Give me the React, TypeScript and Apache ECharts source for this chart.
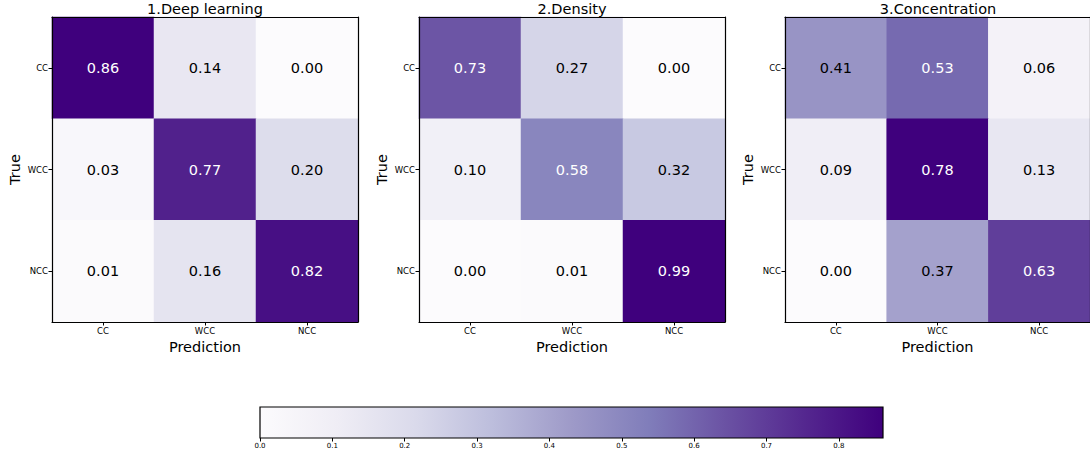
import React, { useEffect, useRef } from "react";
import * as echarts from "echarts";

const categories = ["CC", "WCC", "NCC"];
const titles = ["1.Deep learning", "2.Density", "3.Concentration"];
// rows = True (CC, WCC, NCC), cols = Prediction (CC, WCC, NCC)
const deepLearning = [
  [0.86, 0.14, 0.0],
  [0.03, 0.77, 0.2],
  [0.01, 0.16, 0.82],
];
const density = [
  [0.73, 0.27, 0.0],
  [0.1, 0.58, 0.32],
  [0.0, 0.01, 0.99],
];
const concentration = [
  [0.41, 0.53, 0.06],
  [0.09, 0.78, 0.13],
  [0.0, 0.37, 0.63],
];
const matrices = [deepLearning, density, concentration];
const colorbarMax = 0.861;
const colorbarTicks = [0, 0.1, 0.2, 0.3, 0.4, 0.5, 0.6, 0.7, 0.8];
const textThreshold = 0.5;

const purples = [
  "#fcfbfd",
  "#efedf5",
  "#dadaeb",
  "#bcbddc",
  "#9e9ac8",
  "#807dba",
  "#6a51a3",
  "#54278f",
  "#3f007d",
];

const FONT = "DejaVu Sans";
const gridLefts = [52, 419, 785];
const GRID_TOP = 17;
const GRID_W = 306;
const GRID_H = 305;

export default function App() {
  const ref = useRef<HTMLDivElement>(null);
  useEffect(() => {
    if (!ref.current) return;
    const chart = echarts.init(ref.current, undefined, { renderer: "svg" });

    const grids: any[] = [];
    const xAxes: any[] = [];
    const yAxes: any[] = [];
    const series: any[] = [];
    const visualMaps: any[] = [];
    const title: any[] = [];

    matrices.forEach((m, i) => {
      const vmax = Math.max(...m.flat());
      const vmin = Math.min(...m.flat());
      grids.push({
        left: gridLefts[i],
        top: GRID_TOP,
        width: i === 2 ? GRID_W + 1 : GRID_W,
        height: GRID_H,
        containLabel: false,
      });
      title.push({
        text: titles[i],
        left: gridLefts[i] + GRID_W / 2,
        top: 1,
        textAlign: "center",
        padding: 0,
        textStyle: {
          fontFamily: FONT,
          fontSize: 14.5,
          fontWeight: "normal",
          color: "#000",
        },
      });
      const line = { show: true, onZero: false, lineStyle: { color: "#000", width: 1.2 } };
      xAxes.push({
        type: "category",
        gridIndex: i,
        data: categories,
        position: "bottom",
        z: 10,
        axisLine: line,
        axisTick: { show: true, alignWithLabel: true, length: 3.5, lineStyle: { color: "#000" } },
        axisLabel: { fontFamily: FONT, fontSize: 8.5, color: "#000", margin: 4 },
        splitLine: { show: false },
        name: "Prediction",
        nameLocation: "middle",
        nameGap: 15,
        nameTextStyle: { fontFamily: FONT, fontSize: 14.5, color: "#000" },
      });
      xAxes.push({
        type: "category",
        gridIndex: i,
        data: categories,
        position: "top",
        z: 10,
        axisLine: line,
        axisTick: { show: false },
        axisLabel: { show: false },
        splitLine: { show: false },
      });
      yAxes.push({
        type: "category",
        gridIndex: i,
        data: categories,
        inverse: true,
        position: "left",
        z: 10,
        axisLine: line,
        axisTick: { show: true, alignWithLabel: true, length: 3.5, lineStyle: { color: "#000" } },
        axisLabel: { fontFamily: FONT, fontSize: 8.5, color: "#000", margin: 4 },
        splitLine: { show: false },
        name: "True",
        nameLocation: "middle",
        nameGap: 30,
        nameTextStyle: { fontFamily: FONT, fontSize: 14.5, color: "#000" },
      });
      yAxes.push({
        type: "category",
        gridIndex: i,
        data: categories,
        inverse: true,
        position: "right",
        z: 10,
        axisLine: line,
        axisTick: { show: false },
        axisLabel: { show: false },
        splitLine: { show: false },
      });
      const data: any[] = [];
      m.forEach((row, r) => {
        row.forEach((v, c) => {
          data.push({
            value: [c, r, v],
            label: { color: v > textThreshold ? "#ffffff" : "#000000" },
          });
        });
      });
      visualMaps.push({
        type: "continuous",
        show: false,
        min: vmin,
        max: vmax,
        dimension: 2,
        seriesIndex: i,
        inRange: { color: purples },
      });
      series.push({
        type: "heatmap",
        xAxisIndex: 2 * i,
        yAxisIndex: 2 * i,
        data,
        z: 1,
        label: {
          show: true,
          fontFamily: FONT,
          fontSize: 14.5,
          formatter: (p: any) => p.value[2].toFixed(2),
        },
        itemStyle: { borderWidth: 0 },
        emphasis: { disabled: true },
      });
    });

    // colorbar
    const stops = purples.map((c, k) => ({ offset: k / (purples.length - 1), color: c }));
    grids.push({
      left: 260,
      top: 407,
      width: 623,
      height: 31,
      show: true,
      borderColor: "#000",
      borderWidth: 1.2,
      backgroundColor: new echarts.graphic.LinearGradient(0, 0, 1, 0, stops),
    });
    xAxes.push({
      type: "value",
      gridIndex: 3,
      min: 0,
      max: colorbarMax,
      interval: 0.1,
      axisLine: { show: false },
      axisTick: { show: true, length: 3.5, lineStyle: { color: "#000" } },
      axisLabel: {
        fontFamily: FONT,
        fontSize: 7,
        color: "#000",
        margin: 4,
        showMaxLabel: false,
        formatter: (v: number) =>
          colorbarTicks.some((t) => Math.abs(t - v) < 1e-6) ? v.toFixed(1) : "",
      },
      splitLine: { show: false },
    });
    yAxes.push({ type: "value", gridIndex: 3, show: false, min: 0, max: 1 });

    chart.setOption({
      animation: false,
      textStyle: { fontFamily: FONT },
      title,
      grid: grids,
      xAxis: xAxes,
      yAxis: yAxes,
      visualMap: visualMaps,
      series,
    });
    return () => chart.dispose();
  }, []);
  return (
    <div
      ref={ref}
      style={{ position: "fixed", left: 0, top: 0, width: 1090, height: 459, background: "#fff" }}
    />
  );
}
